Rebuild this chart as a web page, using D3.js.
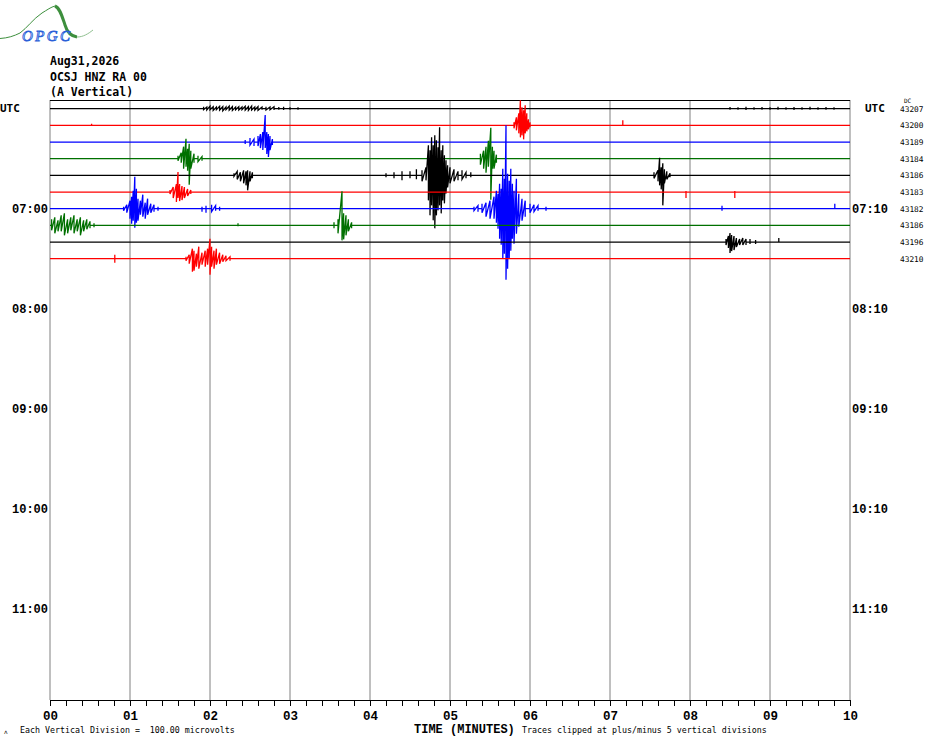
<!DOCTYPE html>
<html>
<head>
<meta charset="utf-8">
<script src="https://cdn.jsdelivr.net/npm/d3@7"></script>
<style>
  body { margin: 0; background: #fff; }
  svg { display: block; }
</style>
</head>
<body>
<svg id="heli" width="930" height="744"></svg>
<script>
// header / station text
var headerLines = ['Aug31,2026', 'OCSJ HNZ RA 00', '(A Vertical)'];
var minuteTicks = d3.range(0, 10.001, 0.2);
var hourLabels = ['07:00', '08:00', '09:00', '10:00', '11:00'];
var endLabels = ['07:10', '08:10', '09:10', '10:10', '11:10'];
var hourRows = [6, 12, 18, 24, 30];
var dcOffsets = [43207, 43200, 43189, 43184, 43186, 43183, 43182, 43186, 43196, 43210];

// each trace: [minute, up (microvolts), down (microvolts)]
var trace0 = [[1.92, 12, 6], [1.96, 10, 8], [2.0, 15, 6], [2.04, 12, 10], [2.08, 10, 6], [2.12, 14, 8],
  [2.16, 12, 12], [2.2, 10, 6], [2.24, 15, 8], [2.28, 12, 10], [2.32, 10, 6], [2.36, 12, 8], [2.4, 10, 6],
  [2.44, 14, 8], [2.48, 12, 10], [2.52, 15, 8], [2.56, 10, 8], [2.6, 12, 10], [2.65, 10, 6], [2.7, 12, 8],
  [2.75, 10, 6], [2.8, 12, 8], [2.86, 10, 6], [2.92, 12, 8], [3.0, 8, 6], [3.1, 8, 6],
  [8.5, 10, 6], [8.6, 8, 6], [8.7, 12, 8], [8.8, 8, 6], [8.9, 10, 6], [9.0, 8, 6], [9.1, 12, 6],
  [9.2, 8, 6], [9.3, 10, 8], [9.4, 8, 6], [9.5, 12, 6], [9.6, 8, 6], [9.7, 10, 6], [9.8, 8, 6]];
var trace1 = [[0.52, 10, 4], [5.8, 18, 18], [5.83, 48, 30], [5.86, 72, 48], [5.88, 150, 72], [5.9, 108, 60],
  [5.92, 90, 84], [5.94, 120, 48], [5.96, 72, 36], [5.98, 36, 24], [6.0, 18, 12], [7.16, 30, 4]];
var trace2 = [[2.44, 12, 12], [2.5, 24, 18], [2.55, 18, 24], [2.6, 36, 24], [2.63, 48, 36], [2.66, 60, 48],
  [2.69, 162, 36], [2.71, 60, 72], [2.73, 48, 90], [2.75, 36, 48], [2.78, 18, 18]];
var trace3 = [[1.6, 18, 12], [1.64, 36, 24], [1.67, 72, 60], [1.7, 120, 48], [1.72, 60, 72], [1.74, 90, 156],
  [1.76, 48, 60], [1.8, 30, 24], [1.85, 18, 18], [1.9, 12, 12],
  [5.38, 30, 36], [5.42, 48, 60], [5.45, 72, 84], [5.48, 108, 48], [5.51, 186, 246], [5.53, 72, 60],
  [5.55, 48, 60], [5.58, 24, 24]];
var trace4 = [[2.3, 12, 6], [2.34, 24, 24], [2.38, 18, 36], [2.42, 30, 48], [2.45, 24, 60], [2.47, 30, 90],
  [2.5, 24, 36], [2.53, 18, 18],
  [4.2, 12, 12], [4.3, 18, 18], [4.4, 24, 30], [4.5, 24, 18], [4.58, 36, 24], [4.65, 30, 36], [4.7, 48, 30],
  [4.73, 180, 150], [4.75, 150, 240], [4.77, 228, 180], [4.79, 180, 270], [4.81, 240, 318], [4.83, 210, 240],
  [4.85, 168, 210], [4.87, 288, 180], [4.89, 150, 228], [4.91, 180, 150], [4.93, 120, 168], [4.95, 90, 108],
  [4.97, 60, 72], [5.0, 48, 48], [5.05, 36, 36], [5.1, 24, 30], [5.15, 30, 24], [5.2, 18, 18], [5.26, 18, 12],
  [7.55, 18, 18], [7.6, 30, 36], [7.62, 105, 60], [7.64, 48, 84], [7.66, 72, 180], [7.68, 36, 48],
  [7.71, 24, 24], [7.75, 12, 12]];
var trace5 = [[1.5, 12, 12], [1.54, 30, 36], [1.58, 48, 60], [1.6, 120, 36], [1.62, 48, 54], [1.65, 36, 48],
  [1.68, 30, 36], [1.72, 18, 24], [1.76, 12, 12], [7.95, 6, 36], [8.56, 6, 36]];
var trace6 = [[0.92, 12, 12], [0.96, 24, 24], [1.0, 48, 60], [1.02, 72, 90], [1.04, 108, 72], [1.06, 192, 114],
  [1.08, 120, 84], [1.1, 60, 72], [1.13, 48, 36], [1.16, 84, 48], [1.19, 36, 60], [1.22, 60, 36],
  [1.26, 30, 24], [1.3, 24, 18], [1.35, 12, 12],
  [1.9, 12, 18], [1.95, 18, 24], [2.02, 24, 18], [2.07, 18, 12], [2.12, 12, 12],
  [5.3, 12, 12], [5.35, 18, 18], [5.4, 30, 24], [5.45, 36, 48], [5.5, 48, 60], [5.55, 72, 60], [5.58, 108, 84],
  [5.6, 90, 120], [5.62, 150, 180], [5.64, 120, 216], [5.66, 240, 300], [5.68, 180, 270], [5.7, 500, 426],
  [5.72, 210, 360], [5.74, 168, 300], [5.76, 240, 252], [5.78, 150, 180], [5.8, 108, 210], [5.83, 180, 150],
  [5.86, 90, 108], [5.9, 60, 72], [5.94, 48, 48], [6.0, 30, 24], [6.05, 24, 18], [6.1, 18, 12], [6.2, 12, 12],
  [8.4, 18, 12], [9.81, 30, 4]];
var trace7 = [[0.02, 36, 30], [0.06, 48, 48], [0.1, 30, 36], [0.14, 60, 36], [0.18, 72, 60], [0.22, 36, 48],
  [0.26, 48, 30], [0.3, 60, 48], [0.34, 36, 36], [0.38, 48, 60], [0.42, 30, 36], [0.46, 36, 24], [0.5, 24, 18],
  [0.55, 12, 12], [2.35, 12, 6],
  [3.55, 18, 18], [3.6, 36, 48], [3.65, 204, 90], [3.67, 72, 84], [3.7, 60, 60], [3.73, 36, 36], [3.77, 18, 18]];
var trace8 = [[8.45, 18, 18], [8.48, 36, 36], [8.5, 54, 66], [8.52, 42, 54], [8.55, 36, 48], [8.58, 24, 30],
  [8.62, 18, 18], [8.66, 24, 18], [8.7, 18, 18], [8.75, 18, 12], [8.82, 12, 12], [9.11, 24, 4]];
var trace9 = [[0.81, 24, 24], [1.7, 12, 12], [1.74, 24, 30], [1.78, 60, 78], [1.8, 48, 72], [1.83, 30, 48],
  [1.86, 72, 60], [1.9, 36, 36], [1.94, 48, 48], [1.97, 60, 36], [2.0, 120, 96], [2.02, 72, 48],
  [2.05, 48, 60], [2.08, 60, 36], [2.12, 36, 30], [2.16, 24, 18], [2.2, 18, 12], [2.25, 12, 12]];
var traces = [trace0, trace1, trace2, trace3, trace4, trace5, trace6, trace7, trace8, trace9];

var traceColors = ['#000000', '#ff0000', '#0000ff', '#007000'];
var clipUv = 500; // plus/minus 5 divisions of 100 uV

var svg = d3.select('#heli');
var plotLeft = 50, plotRight = 850, plotTop = 100, plotBottom = 700;

var x = d3.scaleLinear().domain([0, 10]).range([plotLeft, plotRight]);
// rows of 10 minutes, 6 per hour
var row = d3.scaleLinear().domain([0, 36]).range([108.7, 708.7]);
// 100 uV per division, one division = one row spacing
var amp = d3.scaleLinear().domain([0, 100]).range([0, 600 / 36]);

// logo
var logo = svg.append('g').attr('class', 'logo');
logo.append('path')
  .attr('d', 'M0,38.5 C8,38 14,36 20,33 C27,28 33,19 42,13 C47,10 51,7 55,6')
  .attr('fill', 'none').attr('stroke', '#3d8f3d').attr('stroke-width', 1);
logo.append('path')
  .attr('d', 'M55,6 C60,8 62,16 65,25 C67,32 70,36 77,37')
  .attr('fill', 'none').attr('stroke', '#3d8f3d').attr('stroke-width', 3);
logo.append('path')
  .attr('d', 'M77,37 C83,37 88,34 93,30')
  .attr('fill', 'none').attr('stroke', '#8fc08f').attr('stroke-width', 1);
logo.append('text')
  .attr('x', 22).attr('y', 41)
  .attr('textLength', 48)
  .attr('font-family', 'Liberation Serif')
  .attr('font-style', 'italic')
  .attr('font-size', 15)
  .attr('fill', '#ffffff')
  .attr('stroke', '#2a5fd8')
  .attr('stroke-width', 0.9)
  .text('OPGC');

// header
svg.append('g').selectAll('text')
  .data(headerLines)
  .enter().append('text')
  .attr('x', 50)
  .attr('y', (d, i) => 65 + i * 15.5)
  .attr('font-family', 'DejaVu Sans Mono')
  .attr('font-weight', 'bold')
  .attr('font-size', 11.5)
  .text(d => d);

// grid
var grid = svg.append('g').attr('class', 'grid');
grid.selectAll('line')
  .data(d3.range(0, 11))
  .enter().append('line')
  .attr('x1', d => x(d)).attr('x2', d => x(d))
  .attr('y1', plotTop).attr('y2', plotBottom)
  .attr('stroke', '#808080').attr('stroke-width', 1);
svg.append('line')
  .attr('x1', plotLeft).attr('x2', plotRight)
  .attr('y1', plotTop + 0.5).attr('y2', plotTop + 0.5)
  .attr('stroke', '#000').attr('stroke-width', 1);

// time axis
var axis = d3.axisBottom(x)
  .tickValues(minuteTicks)
  .tickSize(6)
  .tickSizeOuter(0)
  .tickPadding(5)
  .tickFormat(d => Math.abs(d - Math.round(d)) < 1e-6 ? d3.format('02d')(Math.round(d)) : '');
var axisG = svg.append('g')
  .attr('transform', `translate(0,${plotBottom})`)
  .call(axis);
axisG.select('.domain').attr('stroke', '#000');
axisG.selectAll('.tick line').attr('stroke', '#000');
axisG.selectAll('text')
  .attr('font-family', 'Liberation Mono')
  .attr('font-weight', 'bold')
  .attr('font-size', 12.5)
  .attr('fill', '#000');

// traces: zigzag between samples, back to baseline across gaps
var line = d3.line();
traces.forEach(function(samples, i) {
  var base = row(i);
  var pts = [[x(0), base]];
  var prev = null;
  samples.forEach(function(s) {
    var up = Math.min(s[1], clipUv), down = Math.min(s[2], clipUv);
    if (prev === null || s[0] - prev > 0.05) {
      if (prev !== null) pts.push([x(prev), base]);
      pts.push([x(s[0]), base]);
    }
    pts.push([x(s[0]), base - amp(up)]);
    pts.push([x(s[0]), base + amp(down)]);
    prev = s[0];
  });
  if (prev !== null) pts.push([x(prev), base]);
  pts.push([x(10), base]);
  svg.append('path')
    .attr('d', line(pts))
    .attr('fill', 'none')
    .attr('stroke', traceColors[i % 4])
    .attr('stroke-width', 1.3);
});

// hour labels
function hourText(labels, xPos, anchor) {
  svg.append('g').selectAll('text')
    .data(labels)
    .enter().append('text')
    .attr('x', xPos)
    .attr('y', (d, i) => row(hourRows[i]) + 4)
    .attr('text-anchor', anchor)
    .attr('font-family', 'Liberation Mono')
    .attr('font-weight', 'bold')
    .attr('font-size', 12)
    .text(d => d);
}
hourText(hourLabels, 48, 'end');
hourText(endLabels, 852, 'start');
[['UTC', 0], ['UTC', 865]].forEach(function(u) {
  svg.append('text')
    .attr('x', u[1]).attr('y', row(0) + 3)
    .attr('font-family', 'DejaVu Sans Mono')
    .attr('font-weight', 'bold')
    .attr('font-size', 11)
    .text(u[0]);
});

// DC offsets
svg.append('text')
  .attr('x', 904).attr('y', 103)
  .attr('font-family', 'DejaVu Sans Mono')
  .attr('font-size', 6)
  .text('DC');
svg.append('g').selectAll('text')
  .data(dcOffsets)
  .enter().append('text')
  .attr('x', 900)
  .attr('y', (d, i) => row(i) + 3)
  .attr('font-family', 'DejaVu Sans Mono')
  .attr('font-size', 7.8)
  .text(d => d);

// footer
svg.append('text')
  .attr('x', 4).attr('y', 734)
  .attr('font-family', 'DejaVu Sans Mono')
  .attr('font-size', 6)
  .text('\u028c');
svg.append('text')
  .attr('x', 20).attr('y', 733)
  .attr('font-family', 'DejaVu Sans Mono')
  .attr('font-size', 8.3)
  .attr('xml:space', 'preserve')
  .text('Each Vertical Division =  100.00 microvolts');
svg.append('text')
  .attr('x', 414).attr('y', 733)
  .attr('font-family', 'Liberation Mono')
  .attr('font-weight', 'bold')
  .attr('font-size', 12)
  .text('TIME (MINUTES)');
svg.append('text')
  .attr('x', 522).attr('y', 733)
  .attr('font-family', 'DejaVu Sans Mono')
  .attr('font-size', 8.3)
  .text('Traces clipped at plus/minus 5 vertical divisions');
</script>
</body>
</html>
